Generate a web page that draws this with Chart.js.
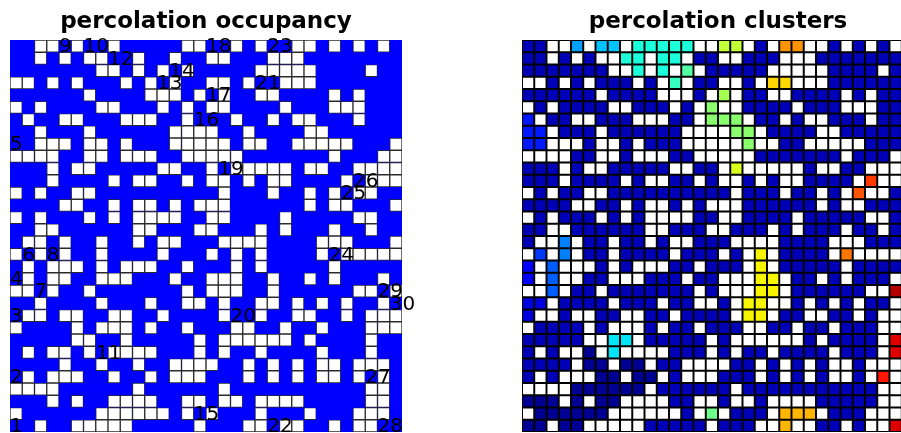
<!DOCTYPE html>
<html>
<head>
<meta charset="utf-8">
<script src="https://cdn.jsdelivr.net/npm/chart.js@4.4.1/dist/chart.umd.min.js"></script>
<style>
  html, body { margin: 0; padding: 0; background: #fff; overflow: hidden; }
  #wrap { position: relative; width: 901px; height: 433px; overflow: hidden; }
  canvas { position: absolute; top: 0; }
  #occ { left: 0; }
  #clu { left: 512px; }
</style>
</head>
<body>
<div id="wrap">
  <canvas id="occ" width="450" height="433"></canvas>
  <canvas id="clu" width="450" height="433"></canvas>
</div>
<script>
// Site occupancy of the 32 x 32 lattice, top row first ('#' = occupied, '.' = empty)
const occupancyRows = [
  "##..#.##.#####..##.#.##..#.#.#.#",
  "##.#.#..##.##.##..###...########",
  "#######..#.#.#.#####.....####.##",
  "..#.#.###.#.#.##..#.##...#######",
  "######.####...#.#.##..####.#.###",
  ".#.####..###.#.#..####.###...###",
  "#.##..###...##.###.##.#..###.###",
  "##.###.######....##.####..######",
  "##...#..#.###.....#..##.....###.",
  "....##..#...##.....#######.###..",
  "###.#..#####..##.#.....#..##....",
  "###.####.#..##.#..#.#..####.#...",
  ".#.##..##########.###.##.#.#..##",
  "####..##.#..#.#...######.#..###.",
  ".#.###.#.#....##..####.#####..##",
  "##..######..###..###.#.###.##.##",
  "#..#.##.##.#..###....####...###.",
  ".#.#.##.####.###.#.#.####.#.....",
  "#.#...#.#...##.###.#.#####.#####",
  "#.#..##...###.##...##.##.#.###.#",
  "..#.##.#######.#...##.######..#.",
  "##.####.###.##..#.##..#.#.#.##.#",
  "#..#..##..##.####.##.##..##.#...",
  ".####.#...#.##.###..##.##.###...",
  "#####..##.#####.#......#.####.##",
  "#.#..#.#....###.#.##.####.###.##",
  "####.##.##.##....##.#.#.#..#...#",
  "#.#...##.##.#...###.#.#.#..#.#.#",
  "....######.######.###########..#",
  "###.#.##....##..#..#....#####..#",
  ".######......#.#.###.###.###...#",
  "##.##.....#####.###..#..##.#..##"
];

// Column and row indices of the lattice (rows counted from the top)
const columnIndex = [0, 1, 2, 3, 4, 5, 6, 7, 8, 9, 10, 11, 12, 13, 14, 15,
                     16, 17, 18, 19, 20, 21, 22, 23, 24, 25, 26, 27, 28, 29, 30, 31];
const rowIndex = [0, 1, 2, 3, 4, 5, 6, 7, 8, 9, 10, 11, 12, 13, 14, 15,
                  16, 17, 18, 19, 20, 21, 22, 23, 24, 25, 26, 27, 28, 29, 30, 31];

const N = rowIndex.length;
const occupied = occupancyRows.map(row => Array.from(row, ch => ch === '#'));

// Label 4-connected clusters, scanning column by column, each from the bottom up
const clusterOf = rowIndex.map(() => columnIndex.map(() => 0));
const clusterAnchor = [];   // first cell met for each cluster: [col, row]
let clusterCount = 0;
for (const c of columnIndex) {
  for (let r = N - 1; r >= 0; r--) {
    if (!occupied[r][c] || clusterOf[r][c]) continue;
    clusterCount++;
    clusterAnchor.push([c, r]);
    const stack = [[r, c]];
    clusterOf[r][c] = clusterCount;
    while (stack.length) {
      const [y, x] = stack.pop();
      for (const [dy, dx] of [[1, 0], [-1, 0], [0, 1], [0, -1]]) {
        const ny = y + dy, nx = x + dx;
        if (ny < 0 || ny >= N || nx < 0 || nx >= N) continue;
        if (occupied[ny][nx] && !clusterOf[ny][nx]) {
          clusterOf[ny][nx] = clusterCount;
          stack.push([ny, nx]);
        }
      }
    }
  }
}

// matplotlib "jet" colormap
const JET = {
  r: [[0, 0], [0.35, 0], [0.66, 1], [0.89, 1], [1, 0.5]],
  g: [[0, 0], [0.125, 0], [0.375, 1], [0.64, 1], [0.91, 0], [1, 0]],
  b: [[0, 0.5], [0.11, 1], [0.34, 1], [0.65, 0], [1, 0]]
};
function channel(pts, v) {
  for (let i = 1; i < pts.length; i++) {
    if (v <= pts[i][0]) {
      const [x0, y0] = pts[i - 1], [x1, y1] = pts[i];
      return y0 + (y1 - y0) * (v - x0) / (x1 - x0);
    }
  }
  return pts[pts.length - 1][1];
}
function jet(v) {
  const q = Math.min(255, Math.max(0, Math.floor(v * 256))) / 255;
  const to255 = x => Math.round(x * 255);
  return `rgb(${to255(channel(JET.r, q))},${to255(channel(JET.g, q))},${to255(channel(JET.b, q))})`;
}
// Cluster numbers 1..count mapped onto the colormap, each centred in its own band
const clusterColor = k => jet((k - 0.5) / clusterCount);

// One floating-bar dataset per lattice row; each bar spans one cell height
function rowDatasets(cellStyle) {
  return rowIndex.map(r => {
    const styles = columnIndex.map(c => cellStyle(r, c));
    return {
      label: 'row ' + r,
      data: columnIndex.map(() => [N - 1 - r, N - r]),
      backgroundColor: styles.map(s => s.fill),
      borderColor: styles.map(s => s.edge),
      borderWidth: styles.map(s => s.width)
    };
  });
}

// Paints the plot area before the cells are drawn
const plotBackground = {
  id: 'plotBackground',
  beforeDatasetsDraw(chart, args, opts) {
    const { ctx, chartArea: a } = chart;
    ctx.save();
    ctx.fillStyle = opts.color;
    ctx.fillRect(a.left, a.top, a.right - a.left, a.bottom - a.top);
    ctx.restore();
  }
};

// Writes each cluster number at the lower-left corner of its first cell
const clusterNumbers = {
  id: 'clusterNumbers',
  afterDatasetsDraw(chart, args, opts) {
    if (!opts.show) return;
    const { ctx } = chart;
    ctx.save();
    ctx.font = '20px "DejaVu Sans"';
    ctx.fillStyle = '#000';
    ctx.textAlign = 'left';
    ctx.textBaseline = 'alphabetic';
    clusterAnchor.forEach(([c, r], i) => {
      const bar = chart.getDatasetMeta(r).data[c];
      const props = bar.getProps(['x', 'y', 'base', 'width'], true);
      const left = props.x - props.width / 2;
      const bottom = Math.max(props.y, props.base);
      ctx.fillText(String(i + 1), left, bottom);
    });
    ctx.restore();
  }
};

function latticeOptions(title, background, showNumbers) {
  return {
    responsive: false,
    animation: false,
    events: [],
    layout: { padding: { left: 10, right: 48, top: 0, bottom: 1 } },
    datasets: {
      bar: { grouped: false, barPercentage: 1, categoryPercentage: 1, borderSkipped: false }
    },
    plugins: {
      legend: { display: false },
      tooltip: { enabled: false },
      title: {
        display: true,
        text: title,
        color: '#000',
        font: { family: 'DejaVu Sans', size: 23, weight: 'bold' },
        padding: { top: 8, bottom: 4.4 }
      },
      plotBackground: { color: background },
      clusterNumbers: { show: showNumbers }
    },
    scales: {
      x: { type: 'category', display: false, offset: true },
      y: { type: 'linear', display: false, min: 0, max: N }
    }
  };
}

new Chart(document.getElementById('occ'), {
  type: 'bar',
  data: {
    labels: columnIndex,
    datasets: rowDatasets((r, c) => occupied[r][c]
      ? { fill: '#0000ff', edge: '#0000ff', width: 1 }
      : { fill: '#ffffff', edge: '#2a2a2a', width: 1 })
  },
  options: latticeOptions('percolation occupancy', '#0000ff', true),
  plugins: [plotBackground, clusterNumbers]
});

new Chart(document.getElementById('clu'), {
  type: 'bar',
  data: {
    labels: columnIndex,
    datasets: rowDatasets((r, c) => ({
      fill: clusterOf[r][c] ? clusterColor(clusterOf[r][c]) : '#ffffff',
      edge: '#000000',
      width: 1.3
    }))
  },
  options: latticeOptions('percolation clusters', '#000000', false),
  plugins: [plotBackground, clusterNumbers]
});
</script>
</body>
</html>
